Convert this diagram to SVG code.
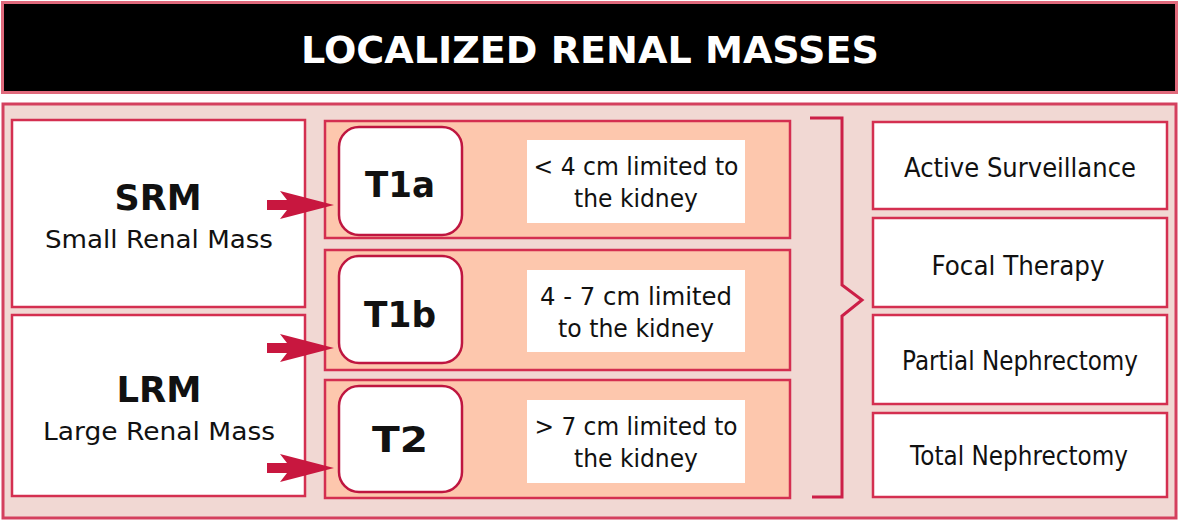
<svg xmlns="http://www.w3.org/2000/svg" width="1181" height="522" viewBox="0 0 1181 522">
<defs>
<style>
.frame{fill:#f1d8d3;stroke:#d4405e;stroke-width:3}
.box{fill:#ffffff;stroke:#d42f50;stroke-width:2.5}
.row{fill:#fdc7ad;stroke:#d42f50;stroke-width:2.5}
.tag{fill:#ffffff;stroke:#bf1640;stroke-width:2.5}
.note{fill:#ffffff}
.t{font-family:"DejaVu Sans",Verdana,sans-serif;fill:#111;text-anchor:middle}
.b{font-weight:bold}
.conn{fill:#c8173f}
.brk{fill:none;stroke:#cc1f47;stroke-width:3}
</style>
<path id="arr" d="M0,-5 L20,-5 L13,-14 L67,0 L13,14 L20,5 L0,5 Z"/>
</defs>
<rect width="1181" height="522" fill="#ffffff"/>

<g id="title">
<rect x="2.5" y="2.5" width="1174" height="90" fill="#000" stroke="#e06a7c" stroke-width="3"/>
<text class="t b" x="590" y="63" font-size="38" fill="#fff" style="fill:#fff" textLength="578" lengthAdjust="spacingAndGlyphs">LOCALIZED RENAL MASSES</text>
</g>

<g id="panel">
<rect class="frame" x="3" y="104" width="1173" height="414"/>
</g>

<g id="srm">
<rect class="box" x="12" y="120" width="293" height="187"/>
<text class="t b" x="158" y="210" font-size="35" textLength="87" lengthAdjust="spacingAndGlyphs">SRM</text>
<text class="t" x="159" y="248" font-size="25.5" textLength="228" lengthAdjust="spacingAndGlyphs">Small Renal Mass</text>
</g>

<g id="lrm">
<rect class="box" x="12" y="315" width="293" height="181"/>
<text class="t b" x="159" y="402" font-size="35" textLength="85" lengthAdjust="spacingAndGlyphs">LRM</text>
<text class="t" x="159" y="440" font-size="25.5" textLength="232" lengthAdjust="spacingAndGlyphs">Large Renal Mass</text>
</g>

<g id="t1a">
<rect class="row" x="325" y="121" width="465" height="117"/>
<rect class="tag" x="339" y="127" width="123" height="108" rx="20"/>
<text class="t b" x="400" y="197" font-size="36" textLength="70" lengthAdjust="spacingAndGlyphs">T1a</text>
<rect class="note" x="527" y="140" width="218" height="83"/>
<text class="t" x="636" y="175" font-size="25" textLength="205" lengthAdjust="spacingAndGlyphs">&lt; 4 cm limited to</text>
<text class="t" x="636" y="207" font-size="25" textLength="124" lengthAdjust="spacingAndGlyphs">the kidney</text>
</g>

<g id="t1b">
<rect class="row" x="325" y="250" width="465" height="120"/>
<rect class="tag" x="339" y="256" width="123" height="107" rx="20"/>
<text class="t b" x="400" y="327" font-size="36" textLength="72" lengthAdjust="spacingAndGlyphs">T1b</text>
<rect class="note" x="527" y="270" width="218" height="82"/>
<text class="t" x="636" y="305" font-size="25" textLength="192" lengthAdjust="spacingAndGlyphs">4 - 7 cm limited</text>
<text class="t" x="636" y="337" font-size="25" textLength="156" lengthAdjust="spacingAndGlyphs">to the kidney</text>
</g>

<g id="t2">
<rect class="row" x="325" y="380" width="465" height="118"/>
<rect class="tag" x="339" y="386" width="123" height="106" rx="20"/>
<text class="t b" x="400" y="452" font-size="36" textLength="56" lengthAdjust="spacingAndGlyphs">T2</text>
<rect class="note" x="527" y="400" width="218" height="83"/>
<text class="t" x="636" y="435" font-size="25" textLength="203" lengthAdjust="spacingAndGlyphs">&gt; 7 cm limited to</text>
<text class="t" x="636" y="467" font-size="25" textLength="124" lengthAdjust="spacingAndGlyphs">the kidney</text>
</g>

<g id="active-surveillance">
<rect class="box" x="873" y="122" width="294" height="87"/>
<text class="t" x="1020" y="177" font-size="26" textLength="232" lengthAdjust="spacingAndGlyphs">Active Surveillance</text>
</g>
<g id="focal-therapy">
<rect class="box" x="873" y="218" width="294" height="89"/>
<text class="t" x="1018" y="275" font-size="26" textLength="173" lengthAdjust="spacingAndGlyphs">Focal Therapy</text>
</g>
<g id="partial-nephrectomy">
<rect class="box" x="873" y="315" width="294" height="89"/>
<text class="t" x="1020" y="370" font-size="26" textLength="236" lengthAdjust="spacingAndGlyphs">Partial Nephrectomy</text>
</g>
<g id="total-nephrectomy">
<rect class="box" x="873" y="413" width="294" height="84"/>
<text class="t" x="1019" y="465" font-size="26" textLength="218" lengthAdjust="spacingAndGlyphs">Total Nephrectomy</text>
</g>

<g id="connectors">
<use href="#arr" class="conn" x="267" y="205"/>
<use href="#arr" class="conn" x="267" y="348"/>
<use href="#arr" class="conn" x="267" y="468"/>
<path class="brk" d="M810,118 H842 V285 L862,300 L842,316 V497 H812"/>
</g>
</svg>
